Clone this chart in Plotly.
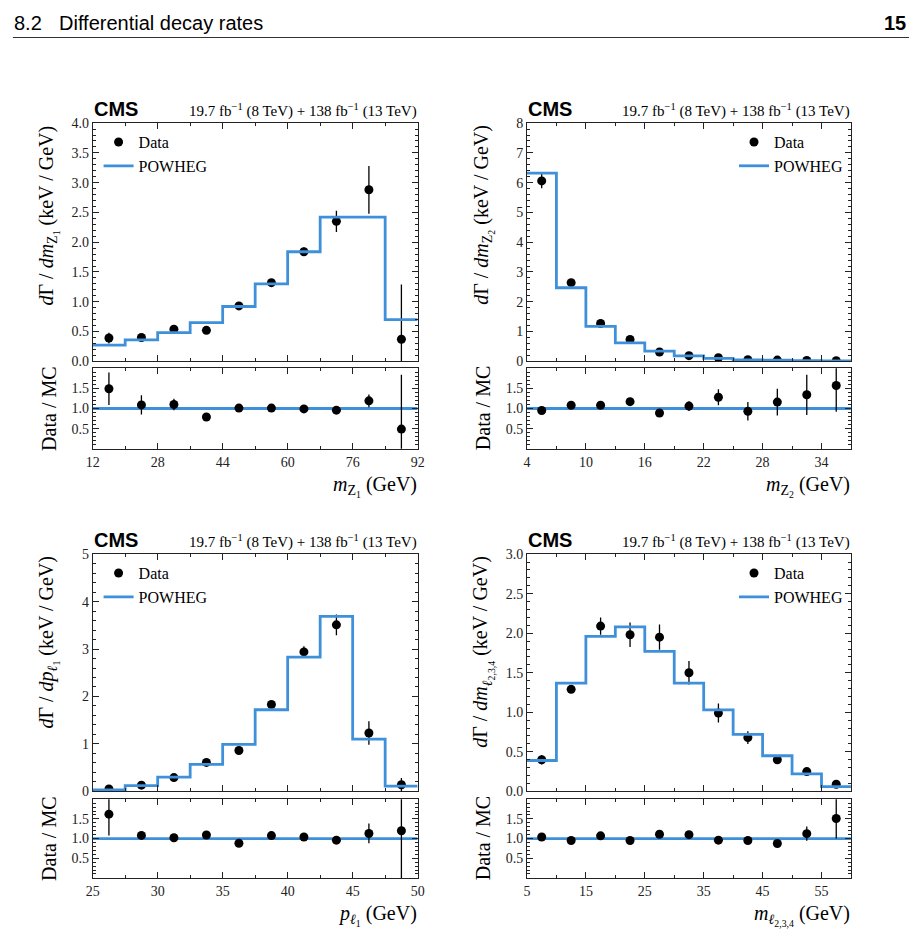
import plotly.graph_objects as go

W, H = 920, 944

# ---------------- data ----------------
# Panel 1: m_Z1
mz1_edges = [12, 20, 28, 36, 44, 52, 60, 68, 76, 84, 92]
mz1_powheg = [0.27, 0.36, 0.48, 0.65, 0.92, 1.30, 1.84, 2.42, 2.42, 0.70]
mz1_data = [0.39, 0.40, 0.54, 0.52, 0.93, 1.32, 1.84, 2.35, 2.88, 0.37]
mz1_data_err = [0.09, 0.06, 0.05, 0.03, 0.03, 0.06, 0.07, 0.18, 0.40, 0.92]
mz1_ratio = [1.49, 1.09, 1.10, 0.79, 1.01, 1.01, 0.99, 0.96, 1.19, 0.49]
mz1_ratio_err = [0.40, 0.24, 0.14, 0.05, 0.04, 0.04, 0.04, 0.05, 0.16, 1.35]

# Panel 2: m_Z2
mz2_edges = [4, 7, 10, 13, 16, 19, 22, 25, 28, 31, 34, 37]
mz2_powheg = [6.32, 2.47, 1.17, 0.62, 0.34, 0.18, 0.10, 0.05, 0.035, 0.025, 0.015]
mz2_data = [6.06, 2.64, 1.27, 0.73, 0.31, 0.19, 0.12, 0.05, 0.04, 0.03, 0.02]
mz2_data_err = [0.25, 0.12, 0.06, 0.04, 0.03, 0.02, 0.02, 0.01, 0.01, 0.01, 0.01]
mz2_ratio = [0.95, 1.08, 1.08, 1.17, 0.89, 1.06, 1.28, 0.93, 1.16, 1.34, 1.57]
mz2_ratio_err = [0.03, 0.04, 0.04, 0.04, 0.06, 0.12, 0.20, 0.23, 0.33, 0.50, 0.65]

# Panel 3: p_l1
pl1_edges = [25, 27.5, 30, 32.5, 35, 37.5, 40, 42.5, 45, 47.5, 50]
pl1_powheg = [0.03, 0.12, 0.30, 0.57, 0.99, 1.72, 2.83, 3.69, 1.10, 0.11]
pl1_data = [0.05, 0.13, 0.29, 0.61, 0.86, 1.83, 2.94, 3.51, 1.23, 0.14]
pl1_data_err = [0.03, 0.03, 0.03, 0.04, 0.04, 0.06, 0.12, 0.22, 0.25, 0.14]
pl1_ratio = [1.62, 1.08, 1.02, 1.09, 0.88, 1.075, 1.04, 0.96, 1.13, 1.20]
pl1_ratio_err = [0.54, 0.07, 0.04, 0.04, 0.04, 0.04, 0.04, 0.06, 0.25, 1.25]

# Panel 4: m_l234
ml234_edges = [5, 10, 15, 20, 25, 30, 35, 40, 45, 50, 55, 60]
ml234_powheg = [0.39, 1.37, 1.96, 2.08, 1.77, 1.37, 1.03, 0.72, 0.45, 0.22, 0.06]
ml234_data = [0.40, 1.29, 2.09, 1.98, 1.95, 1.50, 0.99, 0.68, 0.40, 0.25, 0.09]
ml234_data_err = [0.06, 0.03, 0.11, 0.155, 0.16, 0.15, 0.12, 0.08, 0.04, 0.02, 0.02]
ml234_ratio = [1.04, 0.95, 1.07, 0.95, 1.11, 1.10, 0.96, 0.95, 0.875, 1.125, 1.51]
ml234_ratio_err = [0.10, 0.03, 0.04, 0.04, 0.05, 0.07, 0.09, 0.09, 0.09, 0.18, 0.51]

ratio_ticks = [0.5, 1.0, 1.5]
lumi_text = "19.7 fb<sup>−1</sup> (8 TeV) + 138 fb<sup>−1</sup> (13 TeV)"

# ---------------- styling ----------------
BLUE = "#3f90da"
SERIF = "Liberation Serif"
SANS = "Liberation Sans"
AXC = "#222222"


def px_x(p):
    return p / W


def px_y(p):
    return 1 - p / H


LEFT = (87, 417)
RIGHT = (528, 857)
TOP_MAIN = (118, 360)
TOP_RATIO = (367, 449)
BOT_MAIN = (556, 797)
BOT_RATIO = (805, 885)

panels = [
    dict(edges=mz1_edges, mc=mz1_powheg, data=mz1_data, err=mz1_data_err,
         ratio=mz1_ratio, rerr=mz1_ratio_err, xs=LEFT, main=TOP_MAIN, rat=TOP_RATIO,
         yrange=[0, 4.0], ydtick=0.5, yminor=0.1, yfmt=".1f",
         xtick0=12, xdtick=16, xminor=8,
         ytitle="<i>d</i>Γ / <i>dm</i><sub>Z<sub>1</sub></sub> (keV / GeV)",
         xtitle="<i>m</i><sub>Z<sub>1</sub></sub> (GeV)", leg="left"),
    dict(edges=mz2_edges, mc=mz2_powheg, data=mz2_data, err=mz2_data_err,
         ratio=mz2_ratio, rerr=mz2_ratio_err, xs=RIGHT, main=TOP_MAIN, rat=TOP_RATIO,
         yrange=[0, 8], ydtick=1, yminor=0.2, yfmt="d",
         xtick0=4, xdtick=6, xminor=3,
         ytitle="<i>d</i>Γ / <i>dm</i><sub>Z<sub>2</sub></sub> (keV / GeV)",
         xtitle="<i>m</i><sub>Z<sub>2</sub></sub> (GeV)", leg="right"),
    dict(edges=pl1_edges, mc=pl1_powheg, data=pl1_data, err=pl1_data_err,
         ratio=pl1_ratio, rerr=pl1_ratio_err, xs=LEFT, main=BOT_MAIN, rat=BOT_RATIO,
         yrange=[0, 5], ydtick=1, yminor=0.2, yfmt="d",
         xtick0=25, xdtick=5, xminor=2.5,
         ytitle="<i>d</i>Γ / <i>dp</i><sub><i>ℓ</i><sub>1</sub></sub> (keV / GeV)",
         xtitle="<i>p</i><sub><i>ℓ</i><sub>1</sub></sub> (GeV)", leg="left"),
    dict(edges=ml234_edges, mc=ml234_powheg, data=ml234_data, err=ml234_data_err,
         ratio=ml234_ratio, rerr=ml234_ratio_err, xs=RIGHT, main=BOT_MAIN, rat=BOT_RATIO,
         yrange=[0, 3.0], ydtick=0.5, yminor=0.1, yfmt=".1f",
         xtick0=5, xdtick=10, xminor=5,
         ytitle="<i>d</i>Γ / <i>dm</i><sub><i>ℓ</i><sub>2,3,4</sub></sub> (keV / GeV)",
         xtitle="<i>m</i><sub><i>ℓ</i><sub>2,3,4</sub></sub> (GeV)", leg="right"),
]

fig = go.Figure()
layout = dict(
    width=W, height=H, autosize=False,
    margin=dict(l=0, r=0, t=0, b=0),
    paper_bgcolor="white", plot_bgcolor="white",
    showlegend=True,
    annotations=[], shapes=[],
)

tickfont = dict(family=SERIF, size=14, color=AXC)


def axis_common():
    return dict(showline=True, linecolor=AXC, linewidth=1, mirror="allticks",
                ticks="inside", ticklen=6, tickwidth=1, tickcolor=AXC,
                showgrid=False, zeroline=False, tickfont=tickfont)


for i, p in enumerate(panels):
    a = 2 * i + 1
    b = 2 * i + 2
    xa, ya = f"x{a}", f"y{a}"
    xb, yb = f"x{b}", f"y{b}"
    legname = "legend" if i == 0 else f"legend{i + 1}"
    e = p["edges"]
    centers = [(e[k] + e[k + 1]) / 2 for k in range(len(e) - 1)]

    fig.add_trace(go.Scatter(
        x=centers, y=p["data"], mode="markers", name="Data",
        marker=dict(color="black", size=9),
        error_y=dict(type="data", array=p["err"], color="black", thickness=1.3, width=0),
        xaxis=xa, yaxis=ya, legend=legname, legendrank=1))
    fig.add_trace(go.Scatter(
        x=e, y=list(p["mc"]) + [p["mc"][-1]], mode="lines", name="POWHEG",
        line=dict(color=BLUE, width=2.8, shape="hv"),
        xaxis=xa, yaxis=ya, legend=legname, legendrank=2))
    fig.add_trace(go.Scatter(
        x=[e[0], e[-1]], y=[1, 1], mode="lines", showlegend=False,
        line=dict(color=BLUE, width=2.8), xaxis=xb, yaxis=yb))
    fig.add_trace(go.Scatter(
        x=centers, y=p["ratio"], mode="markers", showlegend=False,
        marker=dict(color="black", size=9),
        error_y=dict(type="data", array=p["rerr"], color="black", thickness=1.3, width=0),
        xaxis=xb, yaxis=yb))

    xdom = [px_x(p["xs"][0]), px_x(p["xs"][1])]
    xrange = [e[0], e[-1]]
    minor_x = dict(ticks="inside", ticklen=3, tickwidth=1, tickcolor=AXC,
                   dtick=p["xminor"], tick0=p["xtick0"], showgrid=False)

    layout[f"xaxis{a}"] = dict(axis_common(), domain=xdom, range=xrange, anchor=ya,
                               matches=xb, showticklabels=False,
                               tick0=p["xtick0"], dtick=p["xdtick"], minor=minor_x)
    layout[f"yaxis{a}"] = dict(axis_common(), domain=[px_y(p["main"][1]), px_y(p["main"][0])],
                               range=p["yrange"], anchor=xa, dtick=p["ydtick"], tick0=0,
                               tickformat=p["yfmt"],
                               minor=dict(ticks="inside", ticklen=3, tickwidth=1, tickcolor=AXC,
                                          dtick=p["yminor"], tick0=0, showgrid=False))
    layout[f"xaxis{b}"] = dict(axis_common(), domain=xdom, range=xrange, anchor=yb,
                               tick0=p["xtick0"], dtick=p["xdtick"], minor=minor_x)
    layout[f"yaxis{b}"] = dict(axis_common(), domain=[px_y(p["rat"][1]), px_y(p["rat"][0])],
                               range=[0, 2], anchor=xb, tickvals=ratio_ticks,
                               tickformat=".1f",
                               minor=dict(ticks="inside", ticklen=3, tickwidth=1, tickcolor=AXC,
                                          dtick=0.1, tick0=0, showgrid=False))

    if p["leg"] == "left":
        legpos = dict(x=px_x(p["xs"][0] + 6), xanchor="left")
    else:
        legpos = dict(x=px_x(p["xs"][1] - 3), xanchor="right")
    layout[legname] = dict(legpos, y=px_y(p["main"][0] + 2), yanchor="top",
                           bgcolor="rgba(0,0,0,0)", font=dict(family=SERIF, size=16, color="black"),
                           itemwidth=30, tracegroupgap=0)

    layout["annotations"].append(dict(
        text="<b>CMS</b>", x=px_x(p["xs"][0] - 1), y=px_y(p["main"][0] - 14),
        xref="paper", yref="paper", xanchor="left", yanchor="middle", showarrow=False,
        font=dict(family=SANS, size=20, color="black")))
    layout["annotations"].append(dict(
        text=lumi_text, x=px_x(p["xs"][1] + 1), y=px_y(p["main"][0] - 13),
        xref="paper", yref="paper", xanchor="right", yanchor="middle", showarrow=False,
        font=dict(family=SERIF, size=15, color="black")))
    layout["annotations"].append(dict(
        text=p["ytitle"], x=px_x(p["xs"][0] - 45), y=px_y(p["main"][0]),
        xref="paper", yref="paper", xanchor="center", yanchor="top", textangle=-90,
        showarrow=False, font=dict(family=SERIF, size=20, color="black")))
    layout["annotations"].append(dict(
        text="Data / MC", x=px_x(p["xs"][0] - 45), y=px_y((p["rat"][0] + p["rat"][1]) / 2),
        xref="paper", yref="paper", xanchor="center", yanchor="middle", textangle=-90,
        showarrow=False, font=dict(family=SERIF, size=20, color="black")))
    layout["annotations"].append(dict(
        text=p["xtitle"], x=px_x(p["xs"][1] + 1), y=px_y(p["rat"][1] + 38),
        xref="paper", yref="paper", xanchor="right", yanchor="middle",
        showarrow=False, font=dict(family=SERIF, size=20, color="black")))

# page header
layout["annotations"].append(dict(
    text="8.2", x=px_x(5), y=px_y(16), xref="paper", yref="paper",
    xanchor="left", yanchor="middle", showarrow=False,
    font=dict(family=SANS, size=20, color="black")))
layout["annotations"].append(dict(
    text="Differential decay rates", x=px_x(51), y=px_y(16), xref="paper", yref="paper",
    xanchor="left", yanchor="middle", showarrow=False,
    font=dict(family=SANS, size=20, color="black")))
layout["annotations"].append(dict(
    text="<b>15</b>", x=px_x(915), y=px_y(16), xref="paper", yref="paper",
    xanchor="right", yanchor="middle", showarrow=False,
    font=dict(family=SANS, size=20, color="black")))
layout["shapes"].append(dict(
    type="line", xref="paper", yref="paper", x0=px_x(6), x1=px_x(916),
    y0=px_y(31), y1=px_y(31), line=dict(color="#333333", width=1)))

fig.update_layout(**layout)
fig.write_html("out.html")
